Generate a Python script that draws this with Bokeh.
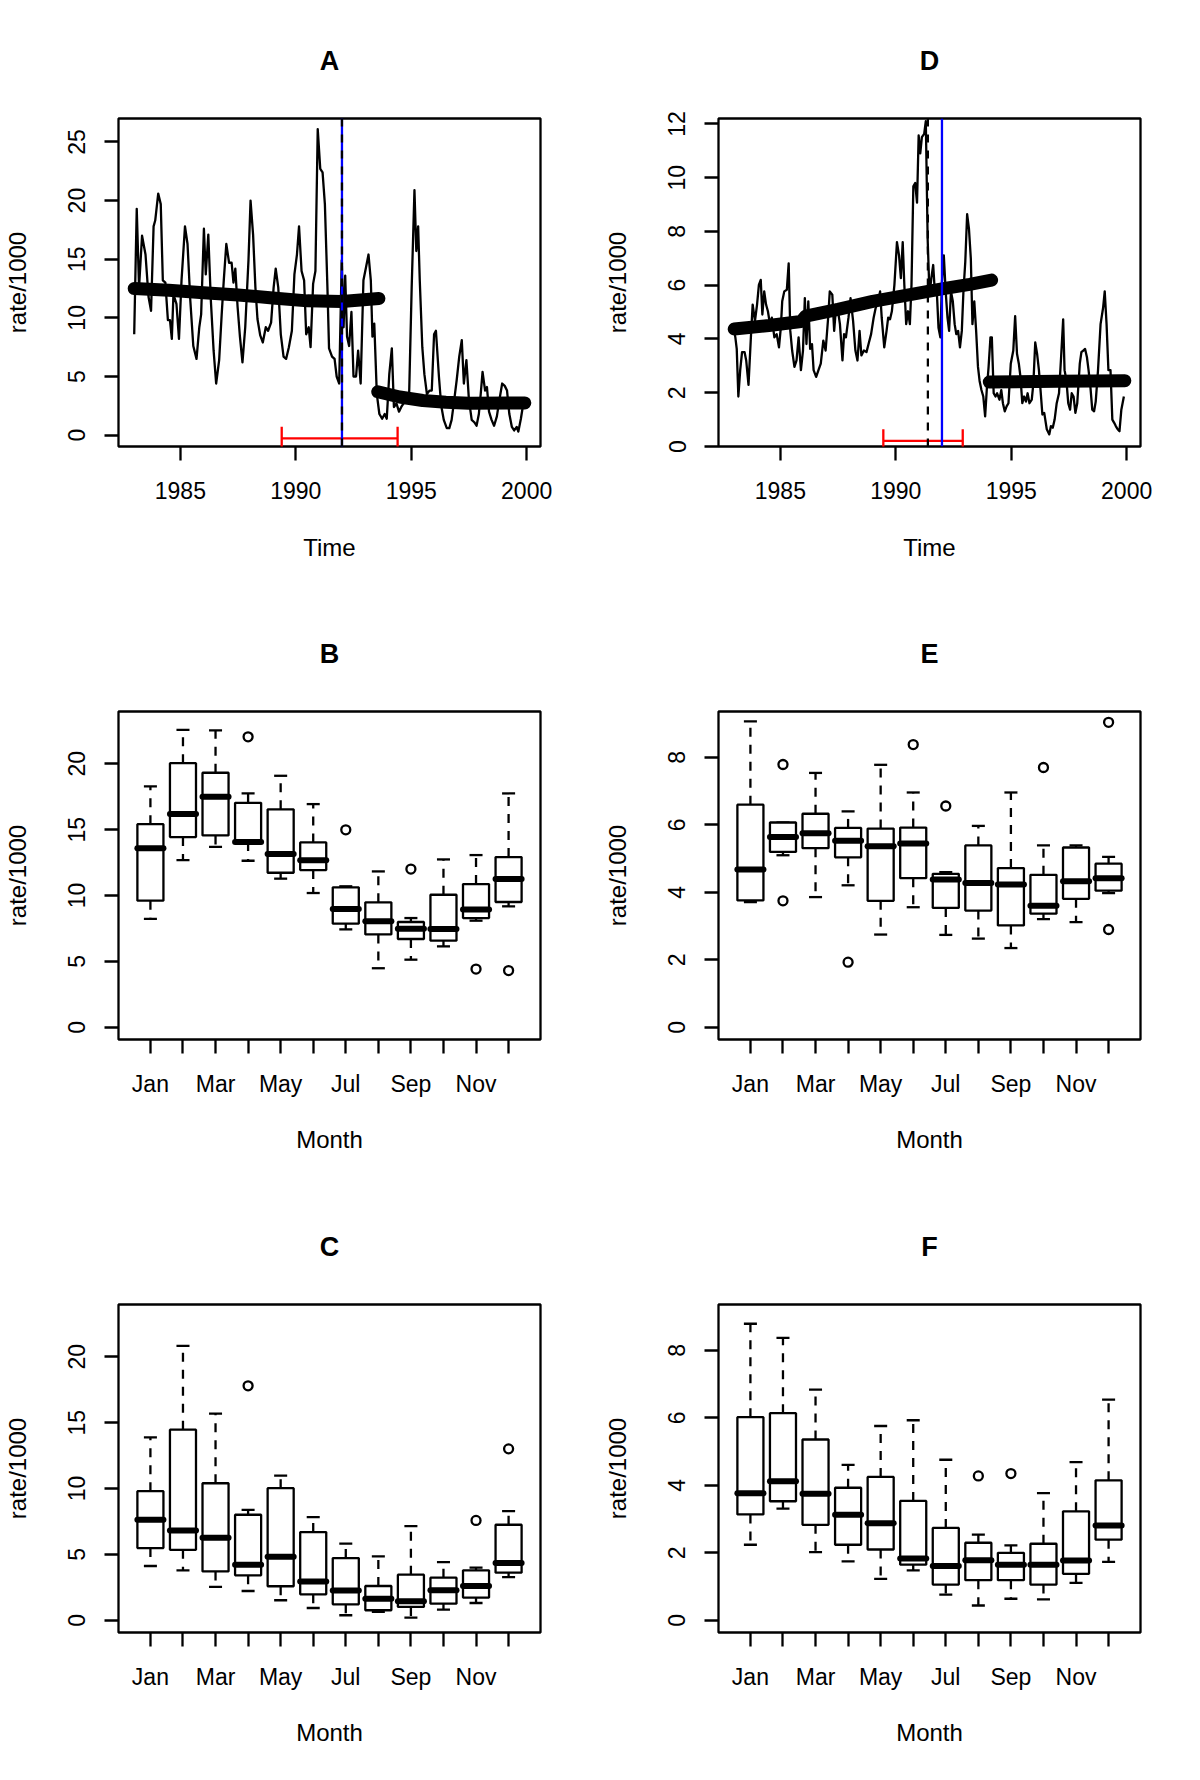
from bokeh.plotting import figure
from bokeh.models import Range1d, FixedTicker, Span
from bokeh.layouts import gridplot
from bokeh.embed import file_html
from bokeh.resources import INLINE

FONT = "Liberation Sans"

# ---------------- data ----------------
months = ["Jan", "Feb", "Mar", "Apr", "May", "Jun", "Jul", "Aug", "Sep", "Oct", "Nov", "Dec"]
month_pos = list(range(1, 13))
year_ticks = [1985, 1990, 1995, 2000]

A_time = [1983.00, 1983.11, 1983.21, 1983.34, 1983.49, 1983.62, 1983.73, 1983.84, 1983.91, 1984.04,
          1984.15, 1984.24, 1984.35, 1984.46, 1984.55, 1984.63, 1984.70, 1984.83, 1984.94, 1985.05,
          1985.20, 1985.31, 1985.43, 1985.56, 1985.70, 1985.82, 1985.90, 1986.02, 1986.10, 1986.21,
          1986.32, 1986.44, 1986.55, 1986.68, 1986.79, 1986.88, 1986.99, 1987.11, 1987.22, 1987.30,
          1987.38, 1987.48, 1987.58, 1987.69, 1987.81, 1987.95, 1988.04, 1988.15, 1988.25, 1988.34,
          1988.46, 1988.57, 1988.70, 1988.80, 1988.93, 1989.04, 1989.13, 1989.24, 1989.35, 1989.47,
          1989.58, 1989.70, 1989.83, 1989.94, 1990.05, 1990.14, 1990.25, 1990.36, 1990.45, 1990.56,
          1990.64, 1990.75, 1990.85, 1990.95, 1991.06, 1991.16, 1991.26, 1991.37, 1991.44, 1991.57,
          1991.68, 1991.77, 1991.88, 1991.99, 1992.07, 1992.14, 1992.22, 1992.31, 1992.41, 1992.50,
          1992.61, 1992.70, 1992.81, 1992.93, 1993.04, 1993.15, 1993.25, 1993.32, 1993.40, 1993.51,
          1993.62, 1993.74, 1993.85, 1993.94, 1994.05, 1994.16, 1994.25, 1994.36, 1994.47, 1994.57,
          1994.67, 1994.78, 1994.91, 1995.02, 1995.14, 1995.22, 1995.30, 1995.37, 1995.48, 1995.57,
          1995.68, 1995.79, 1995.89, 1995.99, 1996.07, 1996.20, 1996.30, 1996.41, 1996.54, 1996.65,
          1996.75, 1996.85, 1996.97, 1997.08, 1997.19, 1997.28, 1997.39, 1997.50, 1997.62, 1997.73,
          1997.83, 1997.93, 1998.01, 1998.09, 1998.20, 1998.28, 1998.37, 1998.48, 1998.59, 1998.71,
          1998.82, 1998.94, 1999.05, 1999.15, 1999.25, 1999.36, 1999.46, 1999.57, 1999.64, 1999.75,
          1999.88]
A_rate = [8.6, 19.3, 12.6, 17.0, 15.4, 11.8, 10.6, 17.8, 18.3, 20.6,
          19.7, 13.2, 13.0, 9.8, 9.8, 8.2, 12.0, 11.2, 8.2, 13.2,
          17.8, 16.3, 11.5, 7.6, 6.5, 9.2, 10.3, 17.6, 13.7, 17.1,
          11.5, 7.2, 4.4, 6.4, 10.3, 13.2, 16.3, 14.7, 14.7, 13.0,
          14.2, 10.9, 8.4, 6.2, 9.2, 14.9, 20.0, 17.1, 12.6, 9.9,
          8.5, 7.9, 9.2, 8.9, 9.6, 12.6, 14.2, 12.6, 8.6, 6.7,
          6.5, 7.5, 8.9, 13.7, 15.4, 17.8, 14.0, 13.2, 8.6, 9.2,
          7.5, 12.9, 14.0, 26.1, 22.7, 22.4, 19.7, 12.6, 7.4, 6.7,
          6.5, 5.0, 4.4, 14.9, 9.2, 13.6, 8.4, 7.6, 10.5, 5.0,
          5.0, 7.2, 4.4, 13.2, 14.3, 15.4, 13.2, 8.4, 9.5, 3.5,
          1.8, 1.4, 1.8, 1.4, 5.2, 7.4, 2.4, 2.7, 2.0, 2.4,
          2.7, 3.0, 3.5, 12.6, 20.9, 15.7, 17.8, 13.2, 7.5, 5.2,
          3.5, 3.8, 3.8, 8.6, 8.9, 5.0, 2.5, 1.3, 0.6, 0.6,
          1.3, 2.8, 4.7, 6.7, 8.1, 4.4, 6.4, 3.0, 1.3, 1.1,
          0.8, 1.8, 3.5, 5.4, 3.8, 4.1, 2.0, 1.3, 0.8, 1.6,
          3.0, 4.4, 4.2, 3.8, 1.8, 0.7, 0.4, 0.7, 0.3, 1.4,
          3.0]
A_trend1_time = [1983.0, 1984.5, 1986.0, 1987.5, 1989.0, 1990.5, 1992.0, 1993.6]
A_trend1_rate = [12.5, 12.35, 12.15, 11.95, 11.7, 11.45, 11.4, 11.65]
A_trend2_time = [1993.55, 1994.5, 1995.5, 1996.5, 1997.5, 1999.92]
A_trend2_rate = [3.7, 3.25, 2.95, 2.8, 2.72, 2.75]
A_break = 1992.0
A_break_est = 1992.0
A_ci = [1989.39, 1994.41]
A_ci_y = -0.28

D_time = [1983.00, 1983.05, 1983.11, 1983.18, 1983.26, 1983.34, 1983.45, 1983.52, 1983.62, 1983.73,
          1983.80, 1983.90, 1983.99, 1984.07, 1984.15, 1984.22, 1984.30, 1984.38, 1984.46, 1984.55,
          1984.63, 1984.74, 1984.84, 1984.94, 1985.02, 1985.08, 1985.17, 1985.28, 1985.36, 1985.43,
          1985.51, 1985.61, 1985.70, 1985.79, 1985.89, 1985.98, 1986.06, 1986.13, 1986.21, 1986.29,
          1986.37, 1986.44, 1986.55, 1986.65, 1986.75, 1986.86, 1986.96, 1987.07, 1987.14, 1987.25,
          1987.33, 1987.42, 1987.50, 1987.58, 1987.69, 1987.76, 1987.84, 1987.95, 1988.04, 1988.15,
          1988.25, 1988.34, 1988.43, 1988.51, 1988.62, 1988.73, 1988.82, 1988.93, 1989.04, 1989.13,
          1989.24, 1989.32, 1989.39, 1989.50, 1989.60, 1989.67, 1989.75, 1989.83, 1989.94, 1990.05,
          1990.14, 1990.22, 1990.30, 1990.37, 1990.45, 1990.53, 1990.61, 1990.68, 1990.76, 1990.84,
          1990.92, 1990.99, 1991.06, 1991.13, 1991.23, 1991.30, 1991.38, 1991.46, 1991.54, 1991.62,
          1991.69, 1991.77, 1991.85, 1991.93, 1992.00, 1992.08, 1992.16, 1992.24, 1992.31, 1992.39,
          1992.47, 1992.55, 1992.62, 1992.70, 1992.78, 1992.86, 1992.93, 1993.01, 1993.09, 1993.17,
          1993.25, 1993.32, 1993.40, 1993.48, 1993.56, 1993.63, 1993.71, 1993.79, 1993.87, 1993.94,
          1994.02, 1994.10, 1994.16, 1994.24, 1994.32, 1994.39, 1994.49, 1994.57, 1994.64, 1994.72,
          1994.80, 1994.88, 1994.98, 1995.09, 1995.17, 1995.25, 1995.33, 1995.40, 1995.48, 1995.56,
          1995.64, 1995.71, 1995.79, 1995.89, 1995.96, 1996.04, 1996.12, 1996.20, 1996.27, 1996.35,
          1996.43, 1996.54, 1996.65, 1996.72, 1996.80, 1996.88, 1996.97, 1997.07, 1997.16, 1997.25,
          1997.31, 1997.39, 1997.47, 1997.55, 1997.62, 1997.70, 1997.78, 1997.86, 1997.97, 1998.04,
          1998.12, 1998.20, 1998.28, 1998.35, 1998.43, 1998.51, 1998.59, 1998.66, 1998.76, 1998.87,
          1998.98, 1999.05, 1999.13, 1999.21, 1999.30, 1999.38, 1999.46, 1999.53, 1999.61, 1999.69,
          1999.77, 1999.88]
D_rate = [4.30, 4.06, 3.63, 1.86, 2.84, 3.51, 3.51, 3.20, 2.29, 4.18,
          5.28, 4.67, 5.28, 6.01, 6.20, 4.91, 5.77, 5.28, 5.03, 4.55,
          4.79, 4.06, 4.18, 3.69, 4.42, 5.40, 5.77, 5.83, 6.81, 4.30,
          3.57, 2.96, 3.20, 4.06, 2.84, 3.57, 5.52, 3.81, 5.40, 3.63,
          3.81, 2.84, 2.59, 2.84, 3.08, 3.94, 3.57, 4.79, 5.77, 5.65,
          4.30, 5.28, 5.03, 4.55, 3.20, 4.18, 4.06, 4.79, 5.52, 4.67,
          3.57, 3.20, 4.30, 3.39, 3.57, 3.51, 3.81, 4.18, 4.79, 5.16,
          5.40, 5.77, 4.79, 3.69, 4.30, 4.79, 4.73, 5.03, 6.01, 7.60,
          7.11, 6.26, 7.60, 6.01, 4.55, 5.03, 4.55, 6.01, 9.68, 9.80,
          9.07, 11.57, 10.90, 11.51, 11.63, 12.10, 7.72, 5.65, 6.26, 6.75,
          5.77, 5.89, 4.42, 4.06, 6.13, 7.11, 5.77, 4.79, 4.30, 5.77,
          5.40, 4.55, 4.18, 4.30, 3.69, 4.30, 5.77, 6.87, 8.64, 8.09,
          6.99, 4.55, 5.40, 4.30, 2.96, 2.44, 2.10, 1.86, 1.12, 2.10,
          2.96, 4.06, 4.06, 1.98, 1.86, 1.98, 1.74, 2.10, 1.61, 1.31,
          1.49, 1.61, 3.08, 3.57, 4.85, 3.45, 3.08, 2.59, 1.61, 1.86,
          1.67, 1.98, 1.61, 1.74, 2.35, 3.87, 3.45, 2.84, 2.10, 1.19,
          1.25, 0.64, 0.45, 0.76, 0.70, 1.00, 1.61, 1.98, 3.32, 4.73,
          2.84, 2.47, 1.61, 1.37, 1.98, 1.86, 1.25, 1.61, 3.08, 3.51,
          3.57, 3.63, 3.32, 2.84, 2.22, 1.37, 1.31, 1.67, 2.84, 4.55,
          5.16, 5.77, 4.55, 2.84, 2.84, 1.00, 0.88, 0.76, 0.64, 0.57,
          1.37, 1.86]
D_trend1_time = [1983.0, 1984.5, 1985.9, 1986.1, 1987.5, 1989.0, 1990.5, 1992.0, 1993.2, 1994.15]
D_trend1_rate = [4.37, 4.5, 4.65, 4.85, 5.1, 5.4, 5.63, 5.86, 6.03, 6.19]
D_trend2_time = [1994.05, 1997.0, 1999.92]
D_trend2_rate = [2.4, 2.43, 2.45]
D_break = 1992.0
D_break_est = 1991.39
D_ci = [1989.46, 1992.90]
D_ci_y = 0.21

# boxplot statistics per month: lower whisker, Q1, median, Q3, upper whisker, outliers
B_low = [8.22, 12.69, 13.70, 12.64, 11.28, 10.19, 7.43, 4.48, 5.13, 6.14, 8.09, 9.18]
B_q1 = [9.61, 14.44, 14.56, 14.06, 11.73, 11.93, 7.86, 7.05, 6.70, 6.57, 8.29, 9.51]
B_med = [13.58, 16.18, 17.50, 14.06, 13.15, 12.67, 8.98, 8.04, 7.48, 7.46, 8.93, 11.25]
B_q3 = [15.42, 20.05, 19.32, 17.04, 16.54, 14.03, 10.62, 9.48, 7.99, 10.06, 10.87, 12.92]
B_high = [18.28, 22.58, 22.53, 17.75, 19.09, 16.94, 10.70, 11.83, 8.29, 12.74, 13.07, 17.75]
B_out_month = [4, 7, 9, 11, 12]
B_out_rate = [22.05, 14.99, 12.01, 4.42, 4.30]

C_low = [4.12, 3.79, 2.53, 2.22, 1.52, 0.93, 0.38, 0.63, 0.20, 0.81, 1.31, 3.28]
C_q1 = [5.48, 5.35, 3.71, 3.41, 2.58, 1.97, 1.21, 0.76, 1.01, 1.26, 1.72, 3.61]
C_med = [7.63, 6.82, 6.26, 4.22, 4.82, 2.95, 2.25, 1.64, 1.44, 2.27, 2.60, 4.34]
C_q3 = [9.80, 14.47, 10.40, 8.01, 10.03, 6.69, 4.72, 2.60, 3.46, 3.23, 3.79, 7.25]
C_high = [13.89, 20.83, 15.68, 8.38, 10.98, 7.83, 5.81, 4.85, 7.15, 4.42, 3.99, 8.28]
C_out_month = [4, 11, 12]
C_out_rate = [17.80, 7.58, 13.01]

E_low = [3.71, 5.10, 3.86, 4.21, 2.75, 3.56, 2.74, 2.63, 2.35, 3.21, 3.12, 3.98]
E_q1 = [3.76, 5.20, 5.31, 5.04, 3.75, 4.42, 3.54, 3.46, 3.02, 3.37, 3.81, 4.05]
E_med = [4.68, 5.64, 5.75, 5.53, 5.37, 5.45, 4.38, 4.28, 4.23, 3.60, 4.33, 4.42]
E_q3 = [6.60, 6.07, 6.33, 5.91, 5.89, 5.92, 4.55, 5.39, 4.72, 4.52, 5.33, 4.85]
E_high = [9.07, 6.07, 7.54, 6.40, 7.78, 6.96, 4.60, 5.97, 6.96, 5.39, 5.39, 5.05]
E_out_month = [2, 2, 4, 6, 7, 10, 12, 12]
E_out_rate = [7.79, 3.75, 1.93, 8.38, 6.56, 7.70, 9.04, 2.90]

F_low = [2.24, 3.31, 2.02, 1.75, 1.23, 1.48, 0.76, 0.44, 0.64, 0.62, 1.11, 1.73]
F_q1 = [3.14, 3.53, 2.83, 2.24, 2.10, 1.65, 1.06, 1.19, 1.19, 1.06, 1.38, 2.39]
F_med = [3.77, 4.12, 3.75, 3.13, 2.88, 1.83, 1.61, 1.78, 1.65, 1.65, 1.77, 2.81]
F_q3 = [6.02, 6.14, 5.36, 3.93, 4.25, 3.54, 2.74, 2.30, 2.00, 2.27, 3.23, 4.15]
F_high = [8.79, 8.37, 6.84, 4.61, 5.76, 5.93, 4.76, 2.54, 2.22, 3.77, 4.69, 6.54]
F_out_month = [8, 9]
F_out_rate = [4.28, 4.35]

# ---------------- layout ----------------
COLS = [dict(left=118, right=60), dict(left=118, right=44)]
ROWS = [dict(top=118, bottom=147), dict(top=118, bottom=147), dict(top=118, bottom=132)]
FRAME_W, FRAME_H = 422, 328
LW = 2.3


def make_fig(title, xr, yr, xticks, yticks, xlabel, r, c, xoverrides=None,
             xlab_standoff=21, xaxis_standoff=32):
    cb, rb = COLS[c], ROWS[r]
    p = figure(width=cb["left"] + FRAME_W + cb["right"],
               height=rb["top"] + FRAME_H + rb["bottom"],
               x_range=Range1d(*xr), y_range=Range1d(*yr),
               output_backend="svg", toolbar_location=None,
               min_border_left=cb["left"], min_border_right=cb["right"],
               min_border_top=rb["top"], min_border_bottom=rb["bottom"],
               title=title)
    p.outline_line_color = "black"
    p.outline_line_width = LW
    p.xgrid.visible = False
    p.ygrid.visible = False
    p.background_fill_color = "white"
    p.border_fill_color = "white"
    p.title.align = "center"
    p.title.text_font = FONT
    p.title.text_font_size = "27px"
    p.title.text_font_style = "bold"
    p.title.text_color = "black"
    p.title.standoff = 86
    for ax in (p.xaxis[0], p.yaxis[0]):
        ax.axis_line_color = None
        ax.major_tick_line_color = "black"
        ax.major_tick_line_width = LW
        ax.major_tick_in = 0
        ax.major_tick_out = 14
        ax.minor_tick_line_color = None
        ax.major_label_text_font = FONT
        ax.major_label_text_font_size = "23px"
        ax.major_label_text_color = "black"
        ax.axis_label_text_font = FONT
        ax.axis_label_text_font_size = "24px"
        ax.axis_label_text_font_style = "normal"
        ax.axis_label_text_color = "black"
    p.xaxis[0].major_label_standoff = xlab_standoff
    p.xaxis[0].axis_label_standoff = xaxis_standoff
    p.yaxis[0].major_label_standoff = 19
    p.yaxis[0].axis_label_standoff = 35
    p.xaxis[0].ticker = FixedTicker(ticks=xticks)
    p.yaxis[0].ticker = FixedTicker(ticks=yticks)
    p.yaxis[0].major_label_orientation = "vertical"
    p.xaxis[0].axis_label = xlabel
    p.yaxis[0].axis_label = "rate/1000"
    if xoverrides:
        p.xaxis[0].major_label_overrides = xoverrides
    return p


def ts_panel(title, r, c, yr, yticks, t, v, tr1, tr2, brk, brk_est, ci, ci_y, cap):
    p = make_fig(title, (1982.32, 2000.60), yr, year_ticks, yticks, "Time", r, c)
    p.line(t, v, line_color="black", line_width=LW, line_join="round")
    p.line(tr1[0], tr1[1], line_color="black", line_width=13, line_cap="round", line_join="round")
    p.line(tr2[0], tr2[1], line_color="black", line_width=13, line_cap="round", line_join="round")
    p.add_layout(Span(location=brk, dimension="height", line_color="#0000FF", line_width=LW))
    p.add_layout(Span(location=brk_est, dimension="height", line_color="black",
                      line_width=LW, line_dash="8 8"))
    p.segment(x0=[ci[0], ci[0], ci[1]], y0=[ci_y, ci_y - cap, ci_y - cap],
              x1=[ci[1], ci[0], ci[1]], y1=[ci_y, ci_y + cap, ci_y + cap],
              line_color="#FF0000", line_width=LW)
    return p


def box_panel(title, r, c, yr, yticks, low, q1, med, q3, high, om, ov):
    over = {m: (name if i % 2 == 0 else "") for i, (m, name) in enumerate(zip(month_pos, months))}
    p = make_fig(title, (0.02, 12.98), yr, month_pos, yticks, "Month", r, c, over,
                 xlab_standoff=17, xaxis_standoff=26)
    x = month_pos
    p.segment(x0=x, y0=q3, x1=x, y1=high, line_color="black", line_width=LW, line_dash="9 8")
    p.segment(x0=x, y0=q1, x1=x, y1=low, line_color="black", line_width=LW, line_dash="9 8")
    p.segment(x0=[m - 0.2 for m in x], y0=high, x1=[m + 0.2 for m in x], y1=high,
              line_color="black", line_width=LW)
    p.segment(x0=[m - 0.2 for m in x], y0=low, x1=[m + 0.2 for m in x], y1=low,
              line_color="black", line_width=LW)
    p.quad(left=[m - 0.4 for m in x], right=[m + 0.4 for m in x], bottom=q1, top=q3,
           fill_color="white", line_color="black", line_width=LW)
    p.segment(x0=[m - 0.4 for m in x], y0=med, x1=[m + 0.4 for m in x], y1=med,
              line_color="black", line_width=6, line_cap="round")
    p.scatter(om, ov, marker="circle", size=9, fill_color=None, line_color="black", line_width=LW)
    return p


pA = ts_panel("A", 0, 0, (-0.97, 27.0), [0, 5, 10, 15, 20, 25], A_time, A_rate,
              (A_trend1_time, A_trend1_rate), (A_trend2_time, A_trend2_rate),
              A_break, A_break_est, A_ci, A_ci_y, 0.99)
pD = ts_panel("D", 0, 1, (0.0, 12.2), [0, 2, 4, 6, 8, 10, 12], D_time, D_rate,
              (D_trend1_time, D_trend1_rate), (D_trend2_time, D_trend2_rate),
              D_break, D_break_est, D_ci, D_ci_y, 0.43)
pB = box_panel("B", 1, 0, (-0.93, 23.97), [0, 5, 10, 15, 20],
               B_low, B_q1, B_med, B_q3, B_high, B_out_month, B_out_rate)
pE = box_panel("E", 1, 1, (-0.36, 9.36), [0, 2, 4, 6, 8],
               E_low, E_q1, E_med, E_q3, E_high, E_out_month, E_out_rate)
pC = box_panel("C", 2, 0, (-0.93, 23.97), [0, 5, 10, 15, 20],
               C_low, C_q1, C_med, C_q3, C_high, C_out_month, C_out_rate)
pF = box_panel("F", 2, 1, (-0.36, 9.36), [0, 2, 4, 6, 8],
               F_low, F_q1, F_med, F_q3, F_high, F_out_month, F_out_rate)

grid = gridplot([[pA, pD], [pB, pE], [pC, pF]], toolbar_location=None)

open("out.html", "w").write(file_html(grid, INLINE))
